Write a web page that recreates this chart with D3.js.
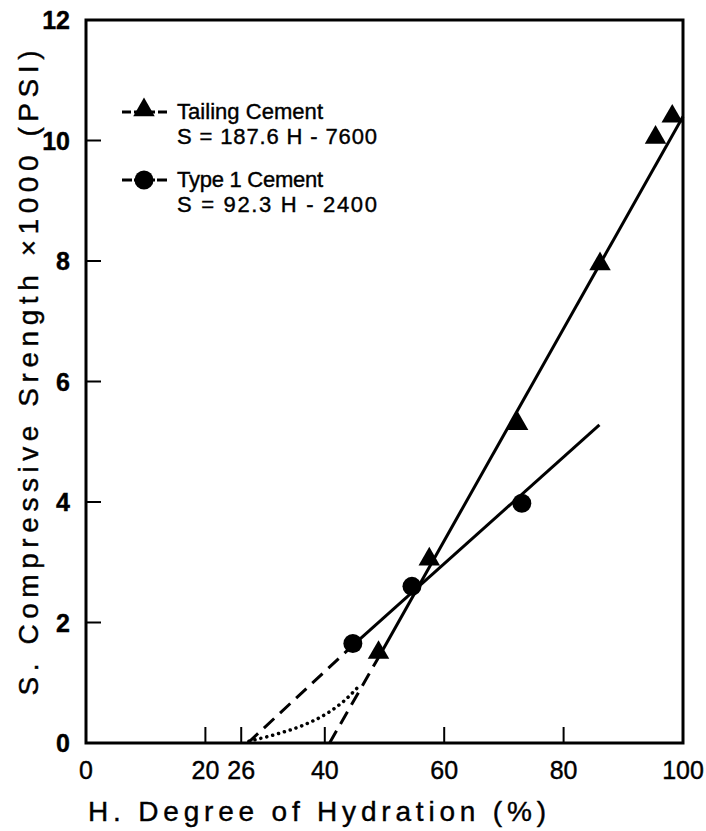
<!DOCTYPE html>
<html lang="en">
<head>
  <meta charset="UTF-8" />
  <title>Compressive Strength vs Degree of Hydration</title>
  <style>
    body { margin: 0; background: #fff; }
    svg { display: block; }
    text { font-family: "Liberation Sans", Arial, sans-serif; fill: #000; stroke: #000; stroke-width: 0.4; }
  </style>
</head>
<body>
  <svg width="706" height="831"></svg>

  <script src="https://d3js.org/d3.v7.min.js"></script>

  <script>
    // measured points (H in %, S in 1000 psi)
    const tailingH = [49, 57.5, 72.3, 86.1, 95.4, 98.2];
    const tailingS = [1.5, 3.05, 5.3, 7.95, 10.05, 10.4];
    const type1H = [44.7, 54.6, 73.0];
    const type1S = [1.65, 2.6, 3.98];

    // fitted lines: dashed extrapolation + solid part
    const tailingDash = [[40.8, 0], [49, 1.42]];
    const tailingSolid = [[49, 1.42], [100, 10.4]];
    const type1Dash = [[27.1, 0], [44.7, 1.62]];
    const type1Solid = [[44.7, 1.62], [86, 5.28]];
    // dotted curve near origin
    const dotted = [[27.3, 0.03], [32, 0.15], [36.5, 0.3], [40.5, 0.5], [43, 0.68], [45.5, 0.92]];

    const xTicks = [0, 20, 26, 40, 60, 80, 100];
    const yTicks = [0, 2, 4, 6, 8, 10, 12];

    const legendLabels = ['Tailing Cement', 'Type 1 Cement'];
    const legendEqs = ['S = 187.6 H - 7600', 'S = 92.3 H - 2400'];

    const svg = d3.select('svg');
    const x = d3.scaleLinear().domain([0, 100]).range([86, 683]);
    const y = d3.scaleLinear().domain([0, 12]).range([743, 20]);

    // frame
    svg.append('rect')
      .attr('x', x(0)).attr('y', y(12))
      .attr('width', x(100) - x(0)).attr('height', y(0) - y(12))
      .attr('fill', 'none').attr('stroke', '#000').attr('stroke-width', 3);

    // x ticks (inside)
    svg.selectAll('.xt').data(xTicks.filter(d => d > 0 && d < 100))
      .enter().append('line')
      .attr('x1', d => x(d)).attr('x2', d => x(d))
      .attr('y1', y(0)).attr('y2', y(0) - 16)
      .attr('stroke', '#000').attr('stroke-width', 2);
    svg.selectAll('.xl').data(xTicks)
      .enter().append('text')
      .attr('x', d => x(d)).attr('y', 779)
      .attr('text-anchor', 'middle')
      .attr('font-size', 25)
      .text(d => d);

    // y ticks (inside)
    svg.selectAll('.yt').data(yTicks.filter(d => d > 0 && d < 12))
      .enter().append('line')
      .attr('x1', x(0)).attr('x2', x(0) + 15)
      .attr('y1', d => y(d)).attr('y2', d => y(d))
      .attr('stroke', '#000').attr('stroke-width', 2);
    svg.selectAll('.yl').data(yTicks)
      .enter().append('text')
      .attr('x', 70).attr('y', d => y(d) + 9)
      .attr('text-anchor', 'end')
      .attr('font-size', 25).attr('font-weight', 'bold')
      .text(d => d);

    // axis titles
    svg.append('text')
      .attr('x', 88).attr('y', 821)
      .attr('font-size', 28)
      .attr('textLength', 458).attr('lengthAdjust', 'spacing')
      .text('H. Degree of Hydration (%)');
    svg.append('text')
      .attr('transform', 'translate(38,373) rotate(-90)')
      .attr('text-anchor', 'middle')
      .attr('font-size', 28)
      .attr('textLength', 645).attr('lengthAdjust', 'spacing')
      .text('S. Compressive Srength \u00d71000 (PSI)');

    const line = d3.line().x(d => x(d[0])).y(d => y(d[1]));

    svg.append('path').attr('d', line(tailingDash))
      .attr('fill', 'none').attr('stroke', '#000').attr('stroke-width', 3)
      .attr('stroke-dasharray', '14,8');
    svg.append('path').attr('d', line(type1Dash))
      .attr('fill', 'none').attr('stroke', '#000').attr('stroke-width', 3)
      .attr('stroke-dasharray', '14,8');
    svg.append('path').attr('d', line(tailingSolid))
      .attr('fill', 'none').attr('stroke', '#000').attr('stroke-width', 3);
    svg.append('path').attr('d', line(type1Solid))
      .attr('fill', 'none').attr('stroke', '#000').attr('stroke-width', 3);
    svg.append('path').attr('d', d3.line().curve(d3.curveMonotoneX).x(d => x(d[0])).y(d => y(d[1]))(dotted))
      .attr('fill', 'none').attr('stroke', '#000').attr('stroke-width', 3.5)
      .attr('stroke-linecap', 'round').attr('stroke-dasharray', '0.1,6');

    const tri = d3.symbol().type(d3.symbolTriangle).size(200);

    svg.selectAll('.tri').data(tailingH)
      .enter().append('path')
      .attr('d', tri)
      .attr('transform', (d, i) => `translate(${x(d)},${y(tailingS[i])})`)
      .attr('fill', '#000');
    svg.selectAll('.circ').data(type1H)
      .enter().append('circle')
      .attr('cx', d => x(d)).attr('cy', (d, i) => y(type1S[i]))
      .attr('r', 9.5).attr('fill', '#000');

    // legend
    const legY = [112, 180];
    legendLabels.forEach((lab, i) => {
      const ly = legY[i];
      svg.append('line').attr('x1', 122).attr('x2', 167).attr('y1', ly).attr('y2', ly)
        .attr('stroke', '#000').attr('stroke-width', 3)
        .attr('stroke-dasharray', i === 0 ? '9,3,21,3,9' : '10,2,21,2,10');
      if (i === 0) {
        svg.append('path').attr('d', tri).attr('transform', `translate(144,${ly - 2})`).attr('fill', '#000');
      } else {
        svg.append('circle').attr('cx', 144).attr('cy', ly).attr('r', 9.5).attr('fill', '#000');
      }
      svg.append('text').attr('x', 177).attr('y', ly + 7)
        .attr('font-size', 22).attr('textLength', 146).attr('lengthAdjust', 'spacing')
        .text(lab);
      svg.append('text').attr('x', 177).attr('y', ly + 32)
        .attr('font-size', 22).attr('textLength', 200).attr('lengthAdjust', 'spacing')
        .text(legendEqs[i]);
    });
  </script>
</body>
</html>
